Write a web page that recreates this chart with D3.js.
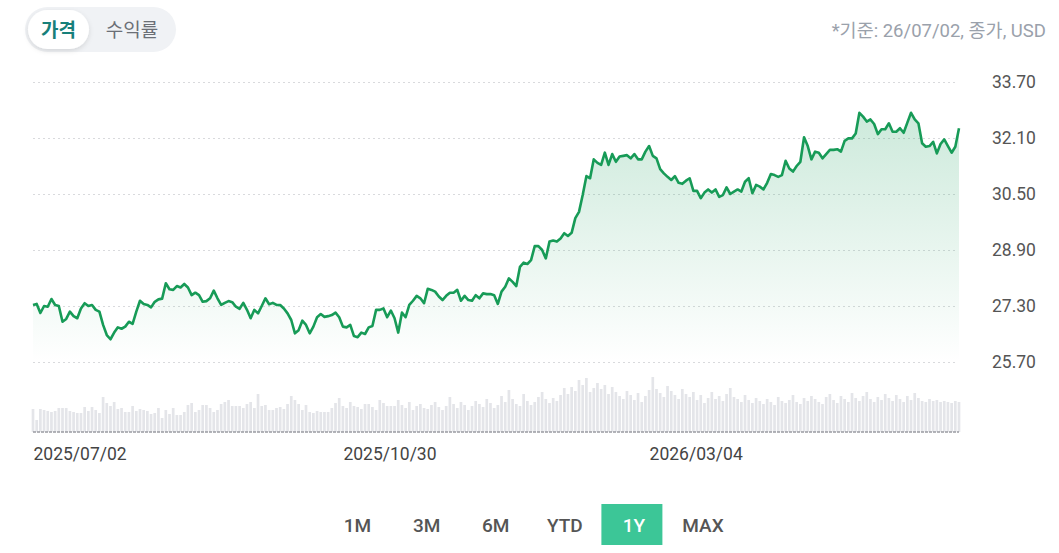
<!DOCTYPE html>
<html>
<head>
<meta charset="utf-8">
<script src="https://cdn.jsdelivr.net/npm/d3@7"></script>
<style>
  body { margin: 0; background: #fff; }
  #chart { width: 1059px; height: 553px; }
  text { font-family: Roboto, "Noto Sans CJK KR", sans-serif; }
</style>
</head>
<body>
<div id="chart"></div>
<script>
// closing prices, one per trading day (2025/07/02 .. 2026/07/02)
var prices = [
  27.33, 27.36, 27.10, 27.30, 27.28, 27.50, 27.33, 27.30, 26.85, 26.93,
  27.14, 27.01, 26.95, 27.23, 27.38, 27.30, 27.33, 27.19, 27.14, 26.76,
  26.47, 26.35, 26.54, 26.69, 26.65, 26.71, 26.85, 26.79, 27.14, 27.45,
  27.36, 27.33, 27.26, 27.42, 27.49, 27.51, 27.95, 27.78, 27.76, 27.87,
  27.83, 27.93, 27.83, 27.61, 27.68, 27.61, 27.42, 27.44, 27.52, 27.74,
  27.52, 27.33, 27.39, 27.44, 27.41, 27.28, 27.22, 27.39, 27.19, 26.95,
  27.19, 27.09, 27.30, 27.52, 27.35, 27.39, 27.33,
  27.33, 27.23, 27.09, 26.90, 26.52, 26.61, 26.88, 26.76, 26.52, 26.71,
  26.98, 27.07, 26.99, 27.01, 27.04, 27.11, 26.98, 26.71, 26.69, 26.76,
  26.44, 26.41, 26.54, 26.50, 26.69, 26.73, 27.19, 27.19, 27.23, 26.98,
  27.17, 26.95, 26.54, 27.11, 26.98, 27.33, 27.45, 27.59, 27.52, 27.38,
  27.79, 27.76, 27.71, 27.57, 27.47, 27.59, 27.68, 27.68, 27.76, 27.45,
  27.59, 27.47, 27.45, 27.61, 27.52, 27.66, 27.64, 27.64, 27.61, 27.36,
  27.71, 27.85, 28.09,
  27.99, 27.87, 28.42, 28.54, 28.50, 28.61, 29.01, 29.01, 28.90, 28.66,
  29.14, 29.17, 29.14, 29.23, 29.38, 29.30, 29.39, 29.81, 29.99, 30.47,
  31.01, 30.95, 31.49, 31.39, 31.33, 31.68, 31.33, 31.64, 31.42, 31.57,
  31.59, 31.61, 31.52, 31.64, 31.49, 31.49, 31.71, 31.87, 31.59, 31.52,
  31.21, 31.09, 30.99, 30.90, 31.01, 30.82, 30.79, 30.88, 30.95, 30.59,
  30.59, 30.38, 30.54, 30.63, 30.54, 30.63, 30.42, 30.47, 30.69, 30.50,
  30.57, 30.63, 30.57, 30.85, 30.95, 30.52, 30.76, 30.71,
  30.63, 30.82, 31.07, 31.04, 30.99, 31.04, 31.45, 31.23, 31.14, 31.30,
  31.42, 32.12, 31.87, 31.49, 31.71, 31.68, 31.52, 31.64, 31.76, 31.76,
  31.78, 31.71, 32.02, 32.09, 32.09, 32.23, 32.82, 32.71, 32.57, 32.63,
  32.50, 32.21, 32.35, 32.35, 32.52, 32.28, 32.28, 32.38, 32.25, 32.54,
  32.82, 32.63, 32.52, 31.95, 31.85, 31.87, 31.99, 31.66, 31.93, 32.06,
  31.87, 31.68, 31.85, 32.38
];

// trading volume (100k shares)
var volumes = [
  23, 12, 23, 22, 21, 20, 21, 24, 24, 24, 21, 20, 19, 19, 25, 21, 25, 22, 19, 35,
  29, 26, 30, 23, 24, 20, 20, 26, 21, 23, 22, 21, 18, 19, 24, 14, 22, 18, 24, 17,
  17, 20, 27, 29, 20, 22, 27, 27, 24, 20, 22, 28, 30, 32, 26, 26, 26, 24, 28, 30,
  24, 38, 26, 27, 22, 22, 24, 25, 23, 28, 36, 32, 28, 22, 27, 20, 19, 21, 20, 20,
  20, 24, 29, 34, 26, 24, 30, 26, 25, 23, 28, 28, 25, 22, 32, 29, 26, 26, 26, 32,
  27, 24, 30, 22, 26, 28, 24, 23, 27, 30, 25, 22, 26, 35, 28, 24, 30, 27, 22, 26,
  31, 28, 25, 33, 29, 24, 27, 36, 30, 42, 33, 28, 26, 38, 31, 27, 30, 35, 40, 33,
  29, 34, 31, 37, 44, 38, 45, 41, 52, 47, 54, 40, 44, 49, 43, 47, 38, 45, 40, 36,
  33, 41, 37, 32, 39, 30, 36, 42, 55, 43, 39, 35, 46, 41, 37, 33, 43, 38, 35, 40,
  32, 37, 29, 34, 40, 33, 36, 31, 38, 44, 35, 33, 30, 37, 32, 29, 34, 31, 28, 33,
  30, 27, 35, 31, 29, 32, 37, 30, 28, 34, 31, 36, 33, 30, 28, 35, 38, 32, 29, 36,
  33, 30, 39, 34, 31, 36, 40, 33, 30, 35, 32, 38, 34, 31, 37, 33, 30, 36, 32, 39,
  34, 31, 30, 33, 31, 32, 30, 31, 30, 29, 31, 30
];

var yTicks = [25.70, 27.30, 28.90, 30.50, 32.10, 33.70];
var xTickIndex = [0, 84, 167];
var xTickLabels = ["2025/07/02", "2025/10/30", "2026/03/04"];
var ranges = ["1M", "3M", "6M", "YTD", "1Y", "MAX"];
var activeRange = "1Y";
var tabs = ["가격", "수익률"];
var note = "*기준: 26/07/02, 종가, USD";

var width = 1059, height = 553;
var plot = {left: 33, right: 959, top: 82, bottom: 362};
var vol = {top: 377, bottom: 432};

var svg = d3.select("#chart").append("svg")
  .attr("width", width)
  .attr("height", height);

var defs = svg.append("defs");
var grad = defs.append("linearGradient")
  .attr("id", "areaGrad")
  .attr("x1", 0).attr("y1", 0).attr("x2", 0).attr("y2", 1);
grad.append("stop").attr("offset", "0%").attr("stop-color", "#1a9e5c").attr("stop-opacity", 0.22);
grad.append("stop").attr("offset", "100%").attr("stop-color", "#1a9e5c").attr("stop-opacity", 0);

var shadow = defs.append("filter").attr("id", "tabShadow")
  .attr("x", "-30%").attr("y", "-30%").attr("width", "160%").attr("height", "170%");
shadow.append("feDropShadow")
  .attr("dx", 0).attr("dy", 2).attr("stdDeviation", 2.5)
  .attr("flood-color", "#000").attr("flood-opacity", 0.12);

// scales
var xScale = d3.scaleLinear()
  .domain([0, prices.length - 1])
  .range([plot.left, plot.right]);

var yScale = d3.scaleLinear()
  .domain([25.70, 33.70])
  .range([plot.bottom, plot.top]);

var vScale = d3.scaleLinear()
  .domain([0, 55])
  .range([vol.bottom, vol.top]);

// grid + y labels
var yAxis = svg.append("g")
  .attr("transform", "translate(" + plot.left + ",0)")
  .call(d3.axisRight(yScale)
    .tickValues(yTicks)
    .tickSize(924)
    .tickPadding(35)
    .tickFormat(d3.format(".2f")));
yAxis.select(".domain").remove();
yAxis.selectAll("line")
  .attr("stroke", "#d9dadd")
  .attr("stroke-width", 1)
  .attr("stroke-dasharray", "2,3");
yAxis.selectAll("text")
  .attr("fill", "#555")
  .style("font-size", "17.5px");

// volume bars
var barW = (plot.right - plot.left) / (prices.length - 1) - 1;
svg.append("g").selectAll("rect")
  .data(volumes)
  .enter().append("rect")
  .attr("x", function(d, i) { return xScale(i) - barW / 2; })
  .attr("y", function(d) { return vScale(d); })
  .attr("width", barW)
  .attr("height", function(d) { return vol.bottom - vScale(d); })
  .attr("fill", "#e4e5e9");

svg.append("line")
  .attr("x1", plot.left).attr("x2", plot.right)
  .attr("y1", vol.bottom).attr("y2", vol.bottom)
  .attr("stroke", "#9a9ca2")
  .attr("stroke-width", 1.5)
  .attr("stroke-dasharray", "3,1");

// price area + line
var area = d3.area()
  .x(function(d, i) { return xScale(i); })
  .y0(plot.bottom)
  .y1(function(d) { return yScale(d); });

var line = d3.line()
  .x(function(d, i) { return xScale(i); })
  .y(function(d) { return yScale(d); });

svg.append("path")
  .datum(prices)
  .attr("d", area)
  .attr("fill", "url(#areaGrad)");

svg.append("path")
  .datum(prices)
  .attr("d", line)
  .attr("fill", "none")
  .attr("stroke", "#179b57")
  .attr("stroke-width", 2.6)
  .attr("stroke-linejoin", "round");

// x labels
var xAxis = svg.append("g")
  .attr("transform", "translate(0," + vol.bottom + ")")
  .call(d3.axisBottom(xScale)
    .tickValues(xTickIndex)
    .tickSize(0)
    .tickPadding(16)
    .tickFormat(function(d, i) { return xTickLabels[i]; }));
xAxis.select(".domain").remove();
xAxis.selectAll("text")
  .attr("text-anchor", "start")
  .attr("fill", "#444")
  .style("font-size", "17.5px");

// tabs top-left
var tabG = svg.append("g");
tabG.append("rect")
  .attr("x", 25).attr("y", 7).attr("width", 151).attr("height", 45).attr("rx", 22.5)
  .attr("fill", "#f0f2f5");
tabG.append("rect")
  .attr("x", 28).attr("y", 10).attr("width", 61).attr("height", 39).attr("rx", 19.5)
  .attr("fill", "#fff")
  .attr("filter", "url(#tabShadow)");
tabG.selectAll("text")
  .data(tabs)
  .enter().append("text")
  .attr("x", function(d, i) { return i == 0 ? 58.5 : 132; })
  .attr("y", 30)
  .attr("dy", "0.35em")
  .attr("text-anchor", "middle")
  .attr("fill", function(d, i) { return i == 0 ? "#17807a" : "#6b6f76"; })
  .style("font-weight", function(d, i) { return i == 0 ? 700 : 400; })
  .style("font-size", "19px")
  .text(function(d) { return d; });

// note top-right
svg.append("text")
  .attr("x", 1046).attr("y", 31)
  .attr("dy", "0.35em")
  .attr("text-anchor", "end")
  .attr("fill", "#9aa1ab")
  .style("font-size", "18.5px")
  .text(note);

// range buttons
var btnX = d3.scalePoint().domain(ranges).range([357.5, 703]);
var btn = svg.append("g").selectAll("g")
  .data(ranges)
  .enter().append("g")
  .attr("transform", function(d) { return "translate(" + btnX(d) + ",525)"; });
btn.filter(function(d) { return d == activeRange; })
  .append("rect")
  .attr("x", -32.5).attr("y", -21).attr("width", 61).attr("height", 41)
  .attr("fill", "#3cc697");
btn.append("text")
  .attr("text-anchor", "middle")
  .attr("dy", "0.35em")
  .attr("fill", function(d) { return d == activeRange ? "#fff" : "#555"; })
  .style("font-size", "19px")
  .style("font-weight", 500)
  .text(function(d) { return d; });
</script>
</body>
</html>
